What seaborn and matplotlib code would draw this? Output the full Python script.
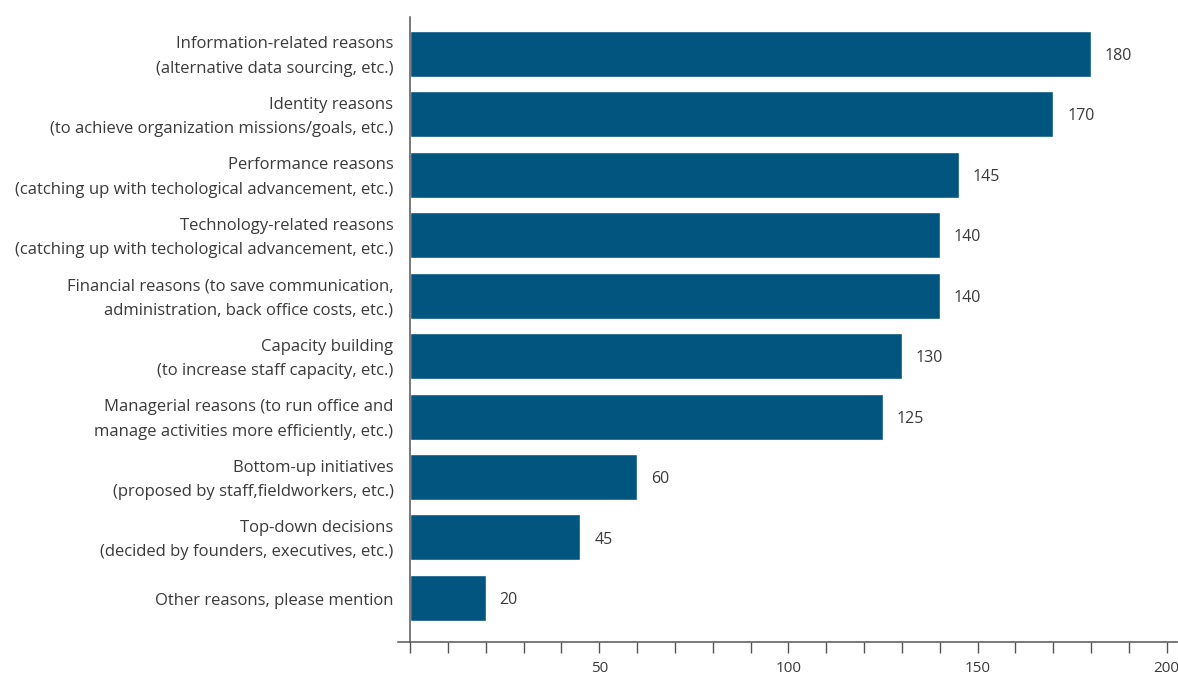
import matplotlib
matplotlib.use("Agg")
import matplotlib.pyplot as plt
import seaborn as sns
import pandas as pd

# --- data ---
reasons = [
    "Information-related reasons\n(alternative data sourcing, etc.)",
    "Identity reasons\n(to achieve organization missions/goals, etc.)",
    "Performance reasons\n(catching up with techological advancement, etc.)",
    "Technology-related reasons\n(catching up with techological advancement, etc.)",
    "Financial reasons (to save communication,\nadministration, back office costs, etc.)",
    "Capacity building\n(to increase staff capacity, etc.)",
    "Managerial reasons (to run office and\nmanage activities more efficiently, etc.)",
    "Bottom-up initiatives\n(proposed by staff,fieldworkers, etc.)",
    "Top-down decisions\n(decided by founders, executives, etc.)",
    "Other reasons, please mention",
]
counts = [180, 170, 145, 140, 140, 130, 125, 60, 45, 20]
tick_values = list(range(0, 201, 10))
tick_labels = [str(v) if v % 50 == 0 and v > 0 else "" for v in tick_values]

df = pd.DataFrame({"reason": reasons, "count": counts})

sns.set_style("white")
plt.rcParams["font.family"] = ["Open Sans", "DejaVu Sans"]

bar_color = "#02557F"
text_color = "#3a3a3a"
axis_color = "#555555"

fig = plt.figure(figsize=(11.78, 6.75), dpi=100)
ax = fig.add_axes([0.3379, 0.0489, 0.6621, 0.9259])

sns.barplot(data=df, x="count", y="reason", color=bar_color, width=0.76,
            saturation=1, ax=ax)

# value labels next to each bar
for i, v in enumerate(counts):
    ax.annotate(str(v), xy=(v, i), xytext=(10, -1.5), textcoords="offset points",
                va="center", ha="left", fontsize=11.5, color=text_color)

# category labels drawn by hand so the line spacing can be opened up
ax.set_yticks(range(len(reasons)))
ax.set_yticklabels([""] * len(reasons))
for i, name in enumerate(reasons):
    ax.annotate(name, xy=(0, i), xytext=(-12, -2), textcoords="offset points",
                va="center", ha="right", multialignment="right",
                linespacing=1.7, fontsize=12, color=text_color)

ax.set_xlim(-3.2, 203)
ax.set_ylim(9.73, -0.61)
ax.set_xlabel("")
ax.set_ylabel("")

ax.set_xticks(tick_values)
ax.set_xticklabels(tick_labels)
ax.tick_params(axis="x", bottom=True, direction="out", length=8, width=1,
               color=axis_color, labelsize=11, labelcolor=text_color, pad=6)
ax.tick_params(axis="y", left=False, length=0)

sns.despine(ax=ax, top=True, right=True)
ax.spines["left"].set_position(("data", 0))
ax.spines["left"].set_color(axis_color)
ax.spines["bottom"].set_color(axis_color)
ax.spines["left"].set_linewidth(1.1)
ax.spines["bottom"].set_linewidth(1.1)

fig.savefig("out.png", dpi=100)
